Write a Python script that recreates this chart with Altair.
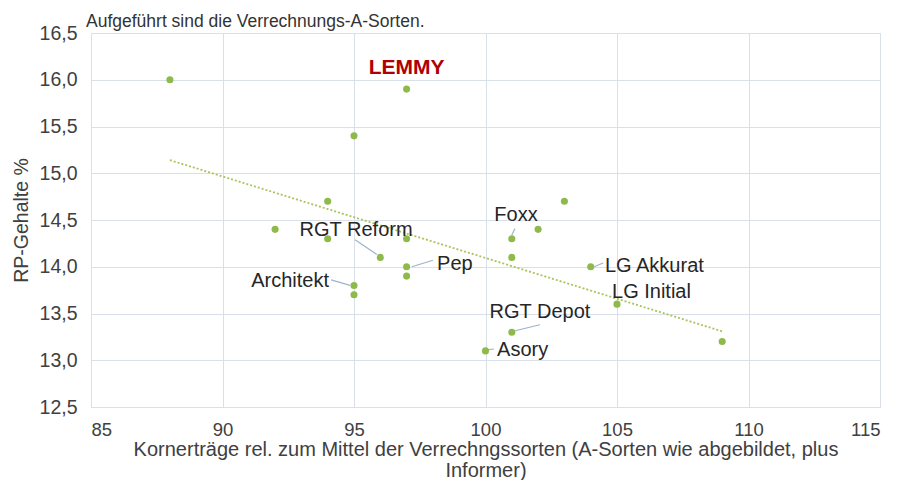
import altair as alt
import pandas as pd

# Data points (Kornertrag rel., RP-Gehalt %)
x_vals = [88, 97, 95, 94, 92, 94, 97, 96, 97, 97, 95, 95, 103, 102, 101, 101, 104, 105, 101, 100, 109]
y_vals = [16.0, 15.9, 15.4, 14.7, 14.4, 14.3, 14.3, 14.1, 14.0, 13.9, 13.8, 13.7,
          14.7, 14.4, 14.3, 14.1, 14.0, 13.6, 13.3, 13.1, 13.2]

# Annotation labels (anchored in data units)
label_text = ["RGT Reform", "Pep", "Architekt", "Foxx", "LG Akkurat", "LG Initial", "RGT Depot", "Asory"]
label_x = [95.08, 98.16, 94.05, 101.16, 104.54, 104.81, 102.07, 100.44]
label_y = [14.39, 14.03, 13.85, 14.55, 14.01, 13.73, 13.52, 13.11]
label_align = ["center", "left", "right", "center", "left", "left", "center", "left"]

# Leader lines (data units)
lead_x1 = [95.04, 97.2, 94.13, 101.12, 104.13, 101.05, 100.06]
lead_y1 = [14.29, 14.0, 13.86, 14.41, 14.0, 13.31, 13.11]
lead_x2 = [95.87, 98.0, 94.85, 101.0, 104.47, 102.07, 100.32]
lead_y2 = [14.13, 14.07, 13.80, 14.34, 14.04, 13.38, 13.12]

highlight_text = ["LEMMY"]
highlight_x = [97.0]
highlight_y = [16.13]

FONT = "Liberation Sans"
GRID = "#d9e0ea"

pts = pd.DataFrame({"x": x_vals, "y": y_vals})
labels = pd.DataFrame({"t": label_text, "x": label_x, "y": label_y, "a": label_align})
leads = pd.DataFrame({"x": lead_x1, "y": lead_y1, "x2": lead_x2, "y2": lead_y2})
hl = pd.DataFrame({"t": highlight_text, "x": highlight_x, "y": highlight_y})

xscale = alt.Scale(domain=[85, 115], nice=False, zero=False)
yscale = alt.Scale(domain=[12.5, 16.5], nice=False, zero=False)

xaxis = alt.Axis(
    title=["Kornerträge rel. zum Mittel der Verrechngssorten (A-Sorten wie abgebildet, plus", "Informer)"],
    values=[85, 90, 95, 100, 105, 110, 115], grid=True, gridColor=GRID, domainColor=GRID,
    ticks=False, labelPadding=13, labelFontSize=18.5, labelFont=FONT, labelColor="#404040",
    titleFont=FONT, titleFontSize=20, titleFontWeight="normal", titleColor="#404040",
    titlePadding=1, titleLineHeight=21,
)
yaxis = alt.Axis(
    title="RP-Gehalte %",
    values=[12.5, 13.0, 13.5, 14.0, 14.5, 15.0, 15.5, 16.0, 16.5], grid=True, gridColor=GRID,
    domainColor=GRID, ticks=False, labelPadding=14, labelFontSize=19.5, labelFont=FONT,
    labelColor="#404040", labelExpr="replace(format(datum.value, '.1f'), '.', ',')",
    titleFont=FONT, titleFontSize=19.5, titleFontWeight="normal", titleColor="#404040",
    titlePadding=8,
)

base_pts = alt.Chart(pts).mark_circle(size=50, color="#8dba4a", opacity=1).encode(
    x=alt.X("x:Q", scale=xscale, axis=xaxis),
    y=alt.Y("y:Q", scale=yscale, axis=yaxis),
)

trend = alt.Chart(pts).transform_regression("x", "y", method="linear").mark_line(
    color="#a8c45a", strokeDash=[2, 2], strokeWidth=1.8
).encode(x=alt.X("x:Q", scale=xscale), y=alt.Y("y:Q", scale=yscale))

lead = alt.Chart(leads).mark_rule(color="#9fb3cc", strokeWidth=1.2).encode(
    x=alt.X("x:Q", scale=xscale), y=alt.Y("y:Q", scale=yscale), x2="x2:Q", y2="y2:Q"
)

layers = []
for a in ["left", "center", "right"]:
    layers.append(
        alt.Chart(labels).transform_filter(alt.datum.a == a).mark_text(
            align=a, baseline="middle", font=FONT, fontSize=20, color="#262626"
        ).encode(x=alt.X("x:Q", scale=xscale), y=alt.Y("y:Q", scale=yscale), text="t:N")
    )

lemmy = alt.Chart(hl).mark_text(
    align="center", baseline="middle", font=FONT, fontSize=21, fontWeight="bold", color="#b00000"
).encode(x=alt.X("x:Q", scale=xscale), y=alt.Y("y:Q", scale=yscale), text="t:N")

chart = alt.layer(trend, lead, base_pts, *layers, lemmy).properties(
    width=789, height=374,
    autosize=alt.AutoSizeParams(type="none"),
    padding={"left": 83, "top": 25, "right": 11, "bottom": 73},
    title=alt.TitleParams(
        "Aufgeführt sind die Verrechnungs-A-Sorten.", anchor="start", frame="group",
        dx=-5, dy=13, offset=6,
        font=FONT, fontSize=17.5, fontWeight="normal", color="#333333",
    ),
).configure_view(stroke=GRID).configure(background="white")

chart.save("out.html", embed_options={"renderer": "svg", "actions": False})
